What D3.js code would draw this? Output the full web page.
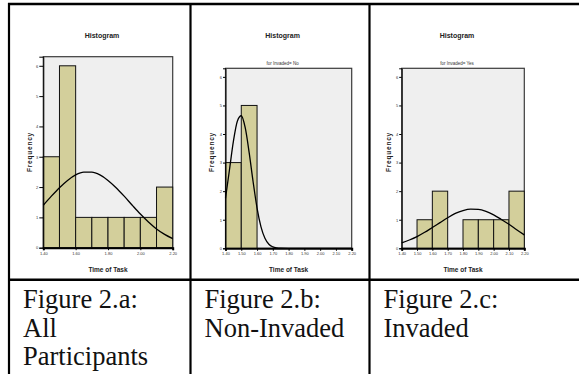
<!DOCTYPE html>
<html>
<head>
<meta charset="utf-8">
<script src="https://cdn.jsdelivr.net/npm/d3@7/dist/d3.min.js"></script>
<style>
  body { margin: 0; background: #fff; }
  svg { display: block; }
</style>
</head>
<body>
<svg id="page" width="579" height="374"></svg>
<script>
// Histogram bins (Time of Task), counts per bin
const binEdges = [1.40, 1.50, 1.60, 1.70, 1.80, 1.90, 2.00, 2.10, 2.20];
const allCounts = [3, 6, 1, 1, 1, 1, 1, 2];
const nonInvadedCounts = [3, 5, 0, 0, 0, 0, 0, 0];
const invadedCounts = [0, 1, 2, 0, 1, 1, 1, 2];

// Normal curves
const curveXCoarse = [1.40, 1.45, 1.50, 1.55, 1.60, 1.65, 1.70, 1.75, 1.80, 1.85, 1.90, 1.95, 2.00, 2.05, 2.10, 2.15, 2.20];
const allCurve = [1.40, 1.70, 1.98, 2.22, 2.40, 2.49, 2.49, 2.40, 2.22, 1.98, 1.70, 1.40, 1.11, 0.85, 0.62, 0.44, 0.30];
const invadedCurve = [0.19, 0.29, 0.41, 0.56, 0.73, 0.90, 1.07, 1.22, 1.32, 1.37, 1.36, 1.29, 1.17, 1.01, 0.84, 0.65, 0.47];
const curveXFine = [1.400, 1.425, 1.450, 1.475, 1.500, 1.525, 1.550, 1.575, 1.600, 1.625, 1.650, 1.675, 1.700, 1.725, 1.750, 1.800, 2.200];
const nonInvadedCurve = [1.75, 2.74, 3.74, 4.45, 4.64, 4.22, 3.35, 2.33, 1.41, 0.75, 0.35, 0.14, 0.05, 0.015, 0.004, 0, 0];

// Tick labels
const freqTicks = [0, 1, 2, 3, 4, 5, 6];
const xTicksAll = [1.40, 1.60, 1.80, 2.00, 2.20];
const xTicksGroup = binEdges;

const captions = [
  ["Figure 2.a:", "All", "Participants"],
  ["Figure 2.b:", "Non-Invaded"],
  ["Figure 2.c:", "Invaded"]
];

const narrow = "'Liberation Sans Narrow','Arial Narrow','Liberation Sans',Arial,sans-serif";
const svg = d3.select("#page");

svg.append("rect").attr("width", 579).attr("height", 374).attr("fill", "#fff");

// Panels layout
const panels = [
  { counts: allCounts, cx: curveXCoarse, cy: allCurve, xticks: xTicksAll, sub: null,
    left: 43.3, right: 172.7, top: 56.7, bottom: 247.7, tick: 4, ylabX: 30 },
  { counts: nonInvadedCounts, cx: curveXFine, cy: nonInvadedCurve, xticks: xTicksGroup, sub: "for Invaded= No",
    left: 225.5, right: 351.7, top: 68.3, bottom: 248.3, tick: 2.5, ylabX: 212 },
  { counts: invadedCounts, cx: curveXCoarse, cy: invadedCurve, xticks: xTicksGroup, sub: "for Invaded= Yes",
    left: 401.7, right: 524.3, top: 68.3, bottom: 248.3, tick: 2.5, ylabX: 388.5 }
];

panels.forEach(p => {
  const x = d3.scaleLinear().domain([1.40, 2.20]).range([p.left, p.right]);
  const y = d3.scaleLinear().domain([0, 6.3]).range([p.bottom, p.top]);
  const g = svg.append("g");
  const mid = (p.left + p.right) / 2 - 6;

  // title
  g.append("text").attr("x", mid).attr("y", 37.5)
    .attr("text-anchor", "middle").attr("font-family", narrow)
    .attr("font-weight", "bold").attr("font-size", 7).attr("fill", "#222")
    .text("Histogram");
  if (p.sub) {
    g.append("text").attr("x", mid).attr("y", 64.5)
      .attr("text-anchor", "middle").attr("font-family", narrow)
      .attr("font-size", 4.5).attr("fill", "#333")
      .text(p.sub);
  }

  // plot frame
  g.append("rect")
    .attr("x", p.left).attr("y", p.top)
    .attr("width", p.right - p.left).attr("height", p.bottom - p.top)
    .attr("fill", "#efefef").attr("stroke", "#3a3a3a").attr("stroke-width", 1.2);

  // bars
  const bins = p.counts.map((c, i) => ({ x0: binEdges[i], x1: binEdges[i + 1], c }))
    .filter(d => d.c > 0);
  g.selectAll(".bar").data(bins).enter().append("rect")
    .attr("class", "bar")
    .attr("x", d => x(d.x0)).attr("width", d => x(d.x1) - x(d.x0))
    .attr("y", d => y(d.c)).attr("height", d => y(0) - y(d.c))
    .attr("fill", "#d3cf9b").attr("stroke", "#111").attr("stroke-width", 1);

  // normal curve
  const line = d3.line().x(d => x(d[0])).y(d => y(d[1])).curve(d3.curveMonotoneX);
  g.append("path").datum(p.cx.map((v, i) => [v, p.cy[i]]))
    .attr("d", line).attr("fill", "none").attr("stroke", "#000").attr("stroke-width", 1.3);

  // axes
  const yAxis = g.append("g").attr("transform", `translate(${p.left},0)`)
    .call(d3.axisLeft(y).tickValues(freqTicks).tickFormat(d3.format("d"))
      .tickSize(p.tick).tickPadding(1));
  yAxis.select(".domain").attr("stroke", "#000").attr("stroke-width", 1);
  yAxis.selectAll("text").attr("font-family", narrow).attr("font-size", 4).attr("fill", "#333");

  const xAxis = g.append("g").attr("transform", `translate(0,${p.bottom})`)
    .call(d3.axisBottom(x).tickValues(p.xticks).tickFormat(d3.format(".2f"))
      .tickSize(2.5).tickPadding(1.5));
  xAxis.select(".domain").attr("stroke", "#000").attr("stroke-width", 2);
  xAxis.selectAll("text").attr("font-family", narrow).attr("font-size", 4).attr("fill", "#333");

  // axis titles
  g.append("text").attr("x", (p.left + p.right) / 2).attr("y", 271.5)
    .attr("text-anchor", "middle").attr("font-family", narrow)
    .attr("font-weight", "bold").attr("font-size", 6.5).attr("fill", "#222")
    .text("Time of Task");
  g.append("text")
    .attr("transform", `translate(${p.ylabX + 2},152) rotate(-90)`)
    .attr("text-anchor", "middle").attr("font-family", "'Liberation Sans',Arial,sans-serif")
    .attr("font-weight", "bold").attr("font-size", 6.5).attr("letter-spacing", 0.8)
    .attr("fill", "#222")
    .text("Frequency");
});

// table grid
const cellLefts = [9, 190.5, 369.5];
const grid = svg.append("g").attr("stroke", "#000");
grid.append("line").attr("x1", 8).attr("x2", 579).attr("y1", 4).attr("y2", 4).attr("stroke-width", 2.3);
grid.append("line").attr("x1", 8).attr("x2", 579).attr("y1", 279.8).attr("y2", 279.8).attr("stroke-width", 2.5);
cellLefts.forEach(cx => {
  grid.append("line").attr("x1", cx).attr("x2", cx).attr("y1", 3).attr("y2", 374).attr("stroke-width", 2.2);
});

// captions
captions.forEach((lines, i) => {
  const t = svg.append("text").attr("font-family", "'Liberation Serif','Times New Roman',serif")
    .attr("font-size", 26.5).attr("fill", "#111");
  lines.forEach((s, j) => {
    t.append("tspan").attr("x", cellLefts[i] + 14).attr("y", 308 + j * 28.5).text(s);
  });
});
</script>
</body>
</html>
